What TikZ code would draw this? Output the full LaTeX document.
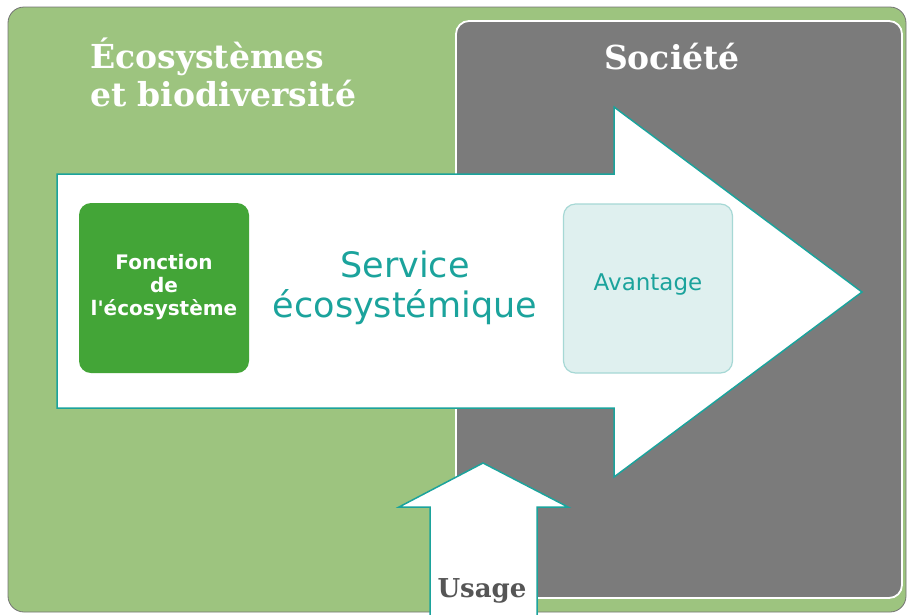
\documentclass[tikz,border=0pt]{standalone}
\usepackage{fontspec}
\setmainfont{DejaVu Serif}
\setsansfont{DejaVu Sans}
\newfontfamily\sfplain{DejaVu Sans}
\definecolor{outergreen}{HTML}{9DC47F}
\definecolor{socgray}{HTML}{7B7B7B}
\definecolor{teal}{HTML}{1BA39C}
\definecolor{fgreen}{HTML}{43A537}
\definecolor{avfill}{HTML}{DFF0EF}
\definecolor{avline}{HTML}{A6D8D5}
\definecolor{usagetext}{HTML}{555555}
\tikzset{
  title/.style={text=white, font=\fontsize{33}{38}\selectfont\bfseries, inner sep=0pt},
  arrowshape/.style={fill=white, draw=teal, line width=1.5pt, line join=miter},
  boxgreen/.style={fill=fgreen, rounded corners=12pt, draw=none},
  boxav/.style={fill=avfill, draw=avline, line width=1.2pt, rounded corners=12pt},
}
\begin{document}
\begin{tikzpicture}[x=1pt,y=-1pt]
\useasboundingbox (0,0) rectangle (909,614);
% outer green panel
\filldraw[fill=outergreen, draw=black!55, line width=0.8pt, rounded corners=16pt] (8,7) rectangle (906,612);
% society panel
\filldraw[fill=socgray, draw=white, line width=1.8pt, rounded corners=13pt] (456,21) rectangle (902,598);
% titles
\node[title, anchor=base west, align=left] (eco) at (90,68) {Écosystèmes};
\node[title, anchor=base west, align=left] (bio) at (90,106) {et biodiversité};
\node[title, anchor=base] (soc) at (672,69) {Société};
% big arrow
\draw[arrowshape] (57,174) -- (614,174) -- (614,107) -- (862,292) -- (614,477) -- (614,408) -- (57,408) -- cycle;
% up arrow
\fill[white] (430,616) -- (430,507) -- (399,507) -- (483,463) -- (568,507) -- (537,507) -- (537,616) -- cycle;
\draw[arrowshape] (430,616) -- (430,507) -- (399,507) -- (483,463) -- (568,507) -- (537,507) -- (537,616);
% boxes
\node[boxgreen, minimum width=170pt, minimum height=170pt] (fonc) at (164,288) {};
\node[text=white, font=\sfplain\bfseries\fontsize{20}{23}\selectfont, align=center] (foncT) at (164,287) {Fonction\\de\\l'écosystème};
\node[boxav, minimum width=169pt, minimum height=169pt] (av) at (648,288.5) {};
\node[text=teal, font=\sffamily\fontsize{23}{27}\selectfont] (avT) at (648,284) {Avantage};
\node[text=teal, font=\sffamily\fontsize{35}{40}\selectfont, align=center] (serv) at (405,288) {Service\\écosystémique};
\node[text=usagetext, font=\bfseries\fontsize{26}{30}\selectfont, anchor=base] (usage) at (482,597) {Usage};
\end{tikzpicture}
\end{document}
